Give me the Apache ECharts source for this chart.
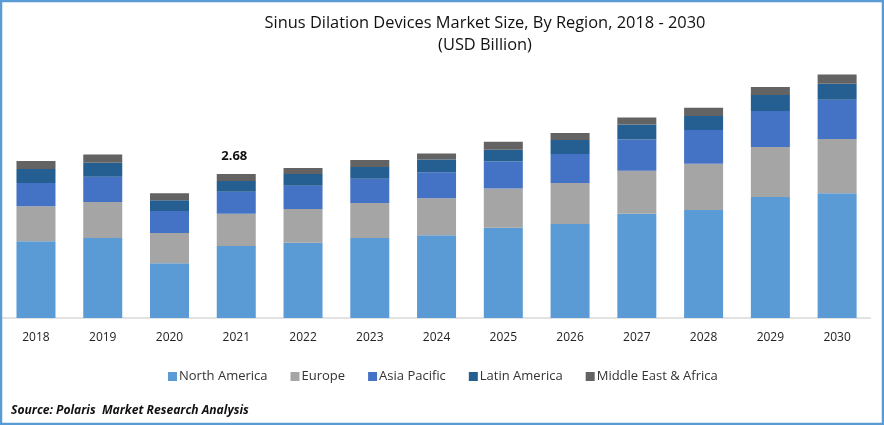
<!DOCTYPE html>
<html><head><meta charset="utf-8">
<style>html,body{margin:0;padding:0;background:#fff}#c{width:884px;height:425px}</style>
<script src="https://cdn.jsdelivr.net/npm/echarts@6/dist/echarts.min.js"></script>
</head><body><div id="c"></div>
<script>
const years=['2018','2019','2020','2021','2022','2023','2024','2025','2026','2027','2028','2029','2030'];
const northAmerica=[1.43,1.49,1.02,1.34,1.40,1.49,1.54,1.68,1.75,1.94,2.01,2.25,2.32];
const europe=[0.65,0.67,0.56,0.60,0.63,0.65,0.69,0.73,0.76,0.80,0.86,0.93,1.01];
const asiaPacific=[0.43,0.47,0.41,0.41,0.43,0.45,0.48,0.50,0.54,0.58,0.63,0.67,0.73];
const latinAmerica=[0.26,0.26,0.20,0.20,0.22,0.22,0.24,0.22,0.26,0.28,0.26,0.30,0.30];
const middleEast=[0.15,0.15,0.13,0.13,0.11,0.13,0.11,0.15,0.13,0.13,0.15,0.15,0.17];
const FONT='"Open Sans"';
const chart=echarts.init(document.getElementById('c'),null,{renderer:'canvas'});
const mk=(name,data,color)=>({name,type:'bar',stack:'t',data,barWidth:39,itemStyle:{color},emphasis:{disabled:true}});
const series=[
 mk('North America',northAmerica,'#5b9bd5'),
 mk('Europe',europe,'#a5a5a5'),
 mk('Asia Pacific',asiaPacific,'#4472c4'),
 mk('Latin America',latinAmerica,'#255e91'),
 mk('Middle East & Africa',middleEast,'#636363')
];
series[4].data=middleEast.map((v,i)=>i===3?{value:v,label:{show:true,position:'top',distance:11,offset:[-2,0],formatter:'2.68',fontFamily:FONT,fontSize:13,fontWeight:'bold',color:'#111'}}:v);
chart.setOption({
 animation:false,backgroundColor:'#fff',
 title:{text:'Sinus Dilation Devices Market Size, By Region, 2018 - 2030\n(USD Billion)',left:480,top:7,textAlign:'center',
  textStyle:{fontFamily:FONT,fontSize:16.4,fontWeight:'normal',color:'#111',lineHeight:22}},
 legend:{left:163,top:365,itemWidth:9,itemHeight:9,itemGap:23,icon:'rect',selectedMode:false,
  textStyle:{fontFamily:FONT,fontSize:13,color:'#333',padding:[0,0,0,-3]},
  data:series.map(s=>s.name)},
 grid:{left:2.6,right:13.5,top:60,height:258,containLabel:false},
 xAxis:{type:'category',data:years,axisTick:{show:false},
  axisLine:{lineStyle:{color:'#d9d9d9',width:1.5}},
  axisLabel:{fontFamily:FONT,fontSize:12,color:'#222',margin:14}},
 yAxis:{type:'value',min:0,max:4.8,show:false,splitLine:{show:false}},
 graphic:[
  {type:'rect',silent:true,z:100,shape:{x:1,y:1,width:882,height:423},style:{fill:'none',stroke:'#5b9bd5',lineWidth:2.5}},
  {type:'text',left:11,top:405,z:100,style:{text:'Source: Polaris  Market Research Analysis',fontFamily:FONT,fontSize:12.1,fontWeight:'bold',fontStyle:'italic',fill:'#111'}}
 ],
 series
});
</script></body></html>
